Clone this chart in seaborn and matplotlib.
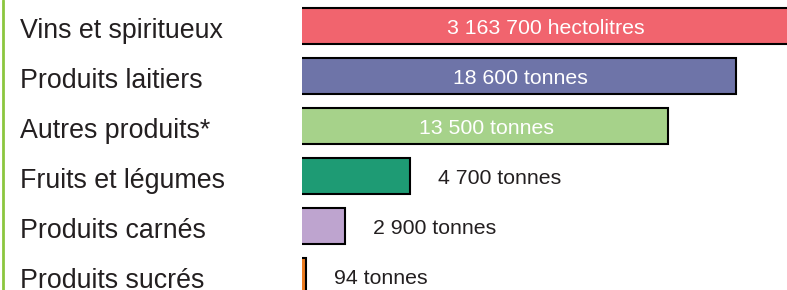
import pandas as pd
import matplotlib
matplotlib.use("Agg")
import matplotlib.pyplot as plt
import seaborn as sns
from matplotlib.lines import Line2D
import matplotlib.transforms as mtransforms

sns.set_style("white")
plt.rcParams['font.family'] = ['Liberation Sans', 'DejaVu Sans']

# données
categories = ["Vins et spiritueux", "Produits laitiers", "Autres produits*",
              "Fruits et légumes", "Produits carnés", "Produits sucrés"]
bar_lengths = [106, 89.5, 75.5, 22.6, 9.3, 1.3]   # longueur relative des barres
bar_labels = ["3 163 700 hectolitres", "18 600 tonnes", "13 500 tonnes",
              "4 700 tonnes", "2 900 tonnes", "94 tonnes"]
colors = ["#f1646e", "#6e74a8", "#a6d28a", "#1e9b74", "#bea4cf", "#ec7d22"]
inside = [True, True, True, False, False, False]

df = pd.DataFrame({"cat": categories, "val": bar_lengths})

fig = plt.figure(figsize=(7.87, 2.90), dpi=100)
ax = fig.add_axes([302 / 787, 0, 1 - 302 / 787, 1])

sns.barplot(data=df, x="val", y="cat", hue="cat", palette=colors, legend=False,
            orient="h", width=0.73, edgecolor="black", linewidth=1.5, ax=ax,
            saturation=1)

xmax = 100
ax.set_xlim(0.5, xmax)
ax.set_ylim(5.28, -0.52)
ax.axis("off")

for i, (v, lab, ins) in enumerate(zip(bar_lengths, bar_labels, inside)):
    if ins:
        ax.text(min(v, xmax) / 2 + 0.5, i + 0.05, lab, color="white", fontsize=15.3,
                ha="center", va="center")
    else:
        ax.text(v + 5.8, i + 0.05, lab, color="#231f20", fontsize=15.3,
                ha="left", va="center")

# libellés des catégories à gauche
trans = mtransforms.blended_transform_factory(fig.transFigure, ax.transData)
for i, cat in enumerate(categories):
    fig.text(20 / 787, i + 0.11, cat, transform=trans, fontsize=19.3,
             color="#231f20", ha="left", va="center")

fig.add_artist(Line2D([2.5 / 787, 2.5 / 787], [0, 1], transform=fig.transFigure,
                      color="#8cc63f", lw=2))

fig.savefig("out.png", dpi=100)
